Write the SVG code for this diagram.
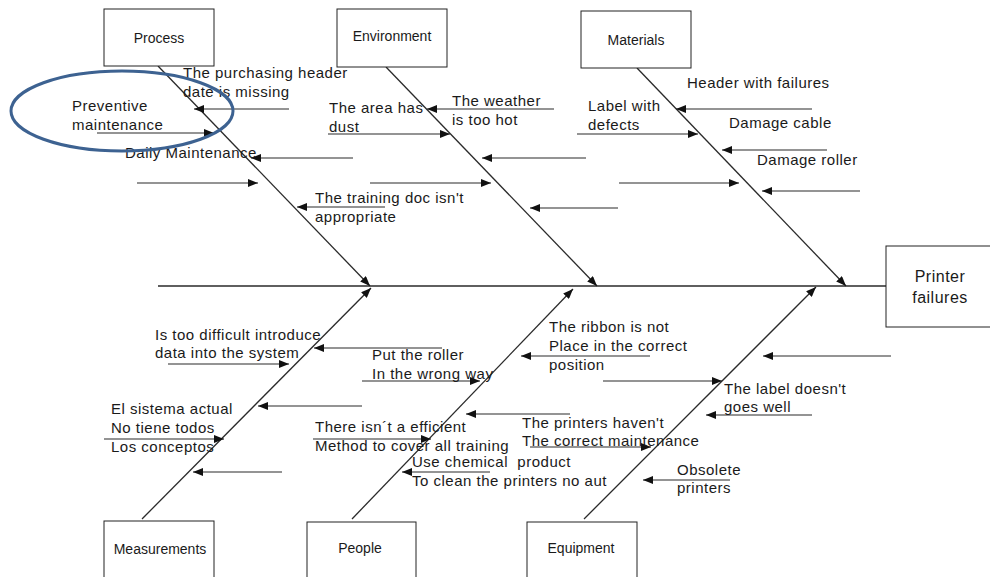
<svg xmlns="http://www.w3.org/2000/svg" width="990" height="577" viewBox="0 0 990 577">
  <style>
    .box { fill: #ffffff; stroke: #222222; stroke-width: 1; }
    .cat { font-family: "Liberation Sans", Arial, sans-serif; font-size: 14px; fill: #1a1a1a; text-anchor: middle; }
    .head { font-family: "Liberation Sans", Arial, sans-serif; font-size: 16px; fill: #1a1a1a; text-anchor: middle; letter-spacing: 0.5px; }
    .cause { font-family: "Liberation Sans", Arial, sans-serif; font-size: 15px; fill: #1a1a1a; letter-spacing: 0.5px; }
    .bone { stroke: #2a2a2a; stroke-width: 1.3; fill: none; marker-end: url(#arrow); }
    .spine { stroke: #2a2a2a; stroke-width: 1.3; fill: none; }
    .sub { stroke: #2a2a2a; stroke-width: 1.1; fill: none; marker-end: url(#arrow); }
  </style>
  <defs>
    <marker id="arrow" markerUnits="userSpaceOnUse" markerWidth="10" markerHeight="8" refX="10" refY="4" orient="auto">
      <path d="M0,0 L10,4 L0,8 Z" fill="#111111"/>
    </marker>
  </defs>

  <rect width="990" height="577" fill="#ffffff"/>

  <!-- connectors: spine, main bones and cause arrows -->
  <g id="connectors">
    <line class="spine" x1="158" y1="286" x2="886" y2="286"/>

    <!-- main bones -->
    <line class="bone" x1="158" y1="66" x2="370" y2="286"/>
    <line class="bone" x1="386" y1="67" x2="597" y2="286"/>
    <line class="bone" x1="637" y1="68" x2="846" y2="286"/>
    <line class="bone" x1="142" y1="519" x2="371" y2="288"/>
    <line class="bone" x1="352" y1="519" x2="573" y2="289"/>
    <line class="bone" x1="584" y1="519" x2="816" y2="287"/>

    <!-- process causes -->
    <line class="sub" x1="289" y1="109" x2="194" y2="109"/>
    <line class="sub" x1="97" y1="133" x2="214" y2="133"/>
    <line class="sub" x1="353" y1="158" x2="251" y2="158"/>
    <line class="sub" x1="137" y1="183" x2="258" y2="183"/>
    <line class="sub" x1="385" y1="207" x2="297" y2="207"/>

    <!-- environment causes -->
    <line class="sub" x1="554" y1="109" x2="427" y2="109"/>
    <line class="sub" x1="328" y1="134" x2="450" y2="134"/>
    <line class="sub" x1="586" y1="158" x2="482" y2="158"/>
    <line class="sub" x1="370" y1="183" x2="491" y2="183"/>
    <line class="sub" x1="618" y1="208" x2="530" y2="208"/>

    <!-- materials causes -->
    <line class="sub" x1="812" y1="109" x2="676" y2="109"/>
    <line class="sub" x1="577" y1="134" x2="698" y2="134"/>
    <line class="sub" x1="827" y1="150" x2="722" y2="150"/>
    <line class="sub" x1="619" y1="183" x2="739" y2="183"/>
    <line class="sub" x1="860" y1="191" x2="762" y2="191"/>

    <!-- measurements causes -->
    <line class="sub" x1="442" y1="348" x2="314" y2="348"/>
    <line class="sub" x1="168" y1="364" x2="289" y2="364"/>
    <line class="sub" x1="362" y1="406" x2="258" y2="406"/>
    <line class="sub" x1="104" y1="439" x2="224" y2="439"/>
    <line class="sub" x1="282" y1="472" x2="193" y2="472"/>

    <!-- people causes -->
    <line class="sub" x1="650" y1="356" x2="521" y2="356"/>
    <line class="sub" x1="362" y1="381" x2="480" y2="381"/>
    <line class="sub" x1="570" y1="414" x2="466" y2="414"/>
    <line class="sub" x1="313" y1="439" x2="431" y2="439"/>
    <line class="sub" x1="490" y1="472" x2="402" y2="472"/>

    <!-- equipment causes -->
    <line class="sub" x1="891" y1="356" x2="763" y2="356"/>
    <line class="sub" x1="603" y1="381" x2="722" y2="381"/>
    <line class="sub" x1="812" y1="415" x2="706" y2="415"/>
    <line class="sub" x1="530" y1="447" x2="651" y2="447"/>
    <line class="sub" x1="730" y1="480" x2="643" y2="480"/>
  </g>

  <!-- category boxes -->
  <g id="process">
    <rect class="box" x="104" y="9" width="110" height="57"/>
    <text class="cat" x="159" y="43">Process</text>
  </g>
  <g id="environment">
    <rect class="box" x="337" y="9" width="110" height="58"/>
    <text class="cat" x="392" y="41">Environment</text>
  </g>
  <g id="materials">
    <rect class="box" x="581" y="11" width="110" height="57"/>
    <text class="cat" x="636" y="45">Materials</text>
  </g>
  <g id="printer-failures">
    <rect class="box" x="886" y="246" width="110" height="81"/>
    <text class="head" x="940" y="282">Printer</text>
    <text class="head" x="940" y="303">failures</text>
  </g>
  <g id="measurements">
    <rect class="box" x="104" y="521" width="110" height="70"/>
    <text class="cat" x="160" y="554">Measurements</text>
  </g>
  <g id="people">
    <rect class="box" x="307" y="522" width="109" height="70"/>
    <text class="cat" x="360" y="553">People</text>
  </g>
  <g id="equipment">
    <rect class="box" x="527" y="522" width="110" height="70"/>
    <text class="cat" x="581" y="553">Equipment</text>
  </g>

  <!-- cause labels -->
  <g id="causes-process">
    <text class="cause" x="183" y="78">The purchasing header</text>
    <text class="cause" x="183" y="97">date is missing</text>
    <text class="cause" x="72" y="111">Preventive</text>
    <text class="cause" x="72" y="130">maintenance</text>
    <text class="cause" x="125" y="158">Daily Maintenance</text>
    <text class="cause" x="315" y="203">The training doc isn't</text>
    <text class="cause" x="315" y="222">appropriate</text>
  </g>
  <g id="causes-environment">
    <text class="cause" x="329" y="113">The area has</text>
    <text class="cause" x="329" y="132">dust</text>
    <text class="cause" x="452" y="106">The weather</text>
    <text class="cause" x="452" y="125">is too hot</text>
  </g>
  <g id="causes-materials">
    <text class="cause" x="588" y="111">Label with</text>
    <text class="cause" x="588" y="130">defects</text>
    <text class="cause" x="687" y="88">Header with failures</text>
    <text class="cause" x="729" y="128">Damage cable</text>
    <text class="cause" x="757" y="165">Damage roller</text>
  </g>
  <g id="causes-measurements">
    <text class="cause" x="155" y="340">Is too difficult introduce</text>
    <text class="cause" x="155" y="358">data into the system</text>
    <text class="cause" x="111" y="414">El sistema actual</text>
    <text class="cause" x="111" y="433">No tiene todos</text>
    <text class="cause" x="111" y="452">Los conceptos</text>
  </g>
  <g id="causes-people">
    <text class="cause" x="372" y="360">Put the roller</text>
    <text class="cause" x="372" y="379">In the wrong way</text>
    <text class="cause" x="315" y="432">There isn´t a efficient</text>
    <text class="cause" x="315" y="451">Method to cover all training</text>
    <text class="cause" x="412" y="467">Use chemical&#160; product</text>
    <text class="cause" x="412" y="486">To clean the printers no aut</text>
    <text class="cause" x="549" y="332">The ribbon is not</text>
    <text class="cause" x="549" y="351">Place in the correct</text>
    <text class="cause" x="549" y="370">position</text>
  </g>
  <g id="causes-equipment">
    <text class="cause" x="522" y="428">The printers haven't</text>
    <text class="cause" x="522" y="446">The correct maintenance</text>
    <text class="cause" x="724" y="394">The label doesn't</text>
    <text class="cause" x="724" y="412">goes well</text>
    <text class="cause" x="677" y="475">Obsolete</text>
    <text class="cause" x="677" y="493">printers</text>
  </g>

  <!-- highlight around the preventive maintenance cause -->
  <ellipse id="highlight" cx="122" cy="111" rx="111" ry="40" fill="none" stroke="#3d6291" stroke-width="3"/>
</svg>
